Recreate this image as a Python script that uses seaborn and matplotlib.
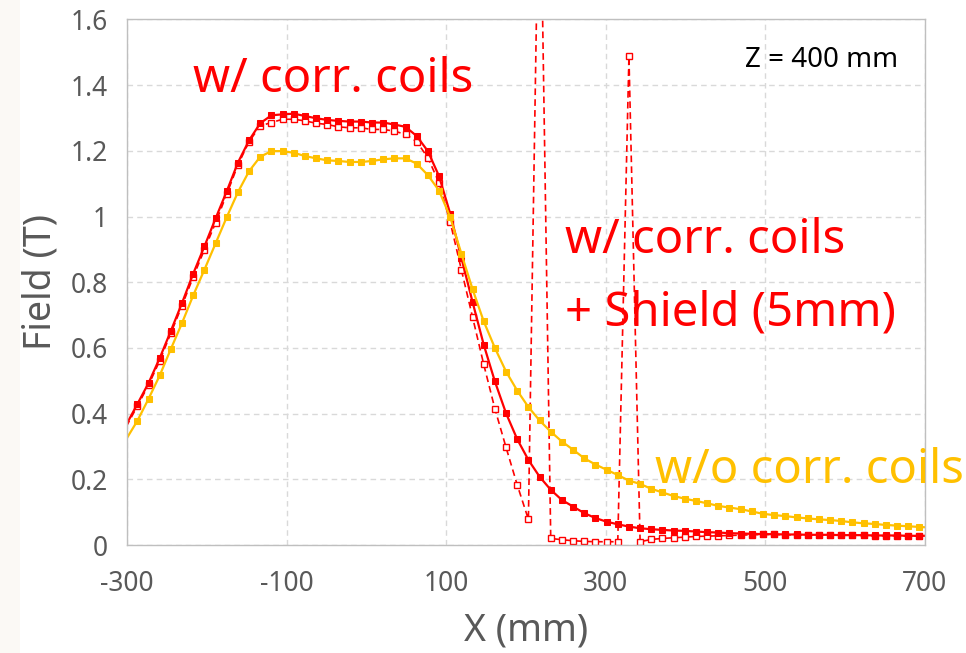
import numpy as np
import pandas as pd
import matplotlib
matplotlib.use("Agg")
import matplotlib.pyplot as plt
from matplotlib.patches import Rectangle
import seaborn as sns

# Sample positions along X (mm)
x_mm = [-301, -287, -273, -259, -245, -231, -217, -203, -189, -175, -161, -147,
        -133, -119, -105, -91, -77, -63, -49, -35, -21, -7, 7, 21, 35, 49, 63,
        77, 91, 105, 119, 133, 147, 161, 175, 189, 203, 217, 231, 245, 259, 273,
        287, 301, 315, 329, 343, 357, 371, 385, 399, 413, 427, 441, 455, 469,
        483, 497, 511, 525, 539, 553, 567, 581, 595, 609, 623, 637, 651, 665,
        679, 693, 707]

# Field (T) without correction coils
field_no_coils = [0.322, 0.378, 0.445, 0.516, 0.597, 0.676, 0.760, 0.838, 0.918,
                  0.998, 1.074, 1.138, 1.182, 1.199, 1.199, 1.194, 1.184, 1.177,
                  1.171, 1.169, 1.166, 1.166, 1.169, 1.174, 1.177, 1.177, 1.161,
                  1.126, 1.079, 0.998, 0.887, 0.779, 0.681, 0.600, 0.528, 0.470,
                  0.420, 0.379, 0.345, 0.315, 0.290, 0.264, 0.245, 0.229, 0.213,
                  0.196, 0.186, 0.171, 0.160, 0.149, 0.141, 0.134, 0.127, 0.119,
                  0.114, 0.109, 0.102, 0.095, 0.091, 0.088, 0.084, 0.081, 0.078,
                  0.076, 0.073, 0.069, 0.066, 0.064, 0.061, 0.059, 0.057, 0.055,
                  0.053]

# Field (T) with correction coils
field_coils = [0.366, 0.429, 0.493, 0.569, 0.652, 0.737, 0.826, 0.909, 0.994,
               1.077, 1.164, 1.232, 1.284, 1.308, 1.311, 1.313, 1.306, 1.299,
               1.294, 1.291, 1.289, 1.289, 1.286, 1.286, 1.280, 1.273, 1.245,
               1.199, 1.123, 1.009, 0.874, 0.740, 0.610, 0.498, 0.401, 0.322,
               0.259, 0.208, 0.168, 0.137, 0.117, 0.097, 0.082, 0.071, 0.063,
               0.056, 0.051, 0.048, 0.046, 0.044, 0.043, 0.041, 0.039, 0.038,
               0.036, 0.035, 0.034, 0.033, 0.033, 0.032, 0.032, 0.031, 0.031,
               0.031, 0.030, 0.030, 0.030, 0.029, 0.029, 0.029, 0.028, 0.028,
               0.028]

# Field (T) with correction coils and a 5 mm shield
field_coils_shield = [0.360, 0.423, 0.487, 0.561, 0.645, 0.729, 0.816, 0.899,
                      0.981, 1.068, 1.157, 1.228, 1.276, 1.286, 1.296, 1.296,
                      1.291, 1.284, 1.280, 1.273, 1.270, 1.270, 1.265, 1.265,
                      1.260, 1.250, 1.228, 1.179, 1.103, 0.983, 0.838, 0.694,
                      0.550, 0.415, 0.297, 0.183, 0.078, 2.200, 0.020, 0.016,
                      0.013, 0.011, 0.010, 0.010, 0.010, 1.488, 0.010, 0.017,
                      0.020, 0.022, 0.024, 0.026, 0.027, 0.028, 0.029, 0.030,
                      0.031, 0.032, 0.032, 0.031, 0.031, 0.030, 0.030, 0.030,
                      0.029, 0.029, 0.029, 0.028, 0.028, 0.028, 0.027, 0.027,
                      0.027]

x_ticks = [-300, -100, 100, 300, 500, 700]
y_ticks = [0, 0.2, 0.4, 0.6, 0.8, 1.0, 1.2, 1.4, 1.6]
y_tick_labels = ["0", "0.2", "0.4", "0.6", "0.8", "1", "1.2", "1.4", "1.6"]

RED = "#FF0000"
GOLD = "#FFC000"
GREY_TEXT = "#595959"

sns.set_style("white")
plt.rcParams["font.family"] = ["Noto Sans", "DejaVu Sans"]

fig = plt.figure(figsize=(9.66, 6.53), dpi=100)
# faint cream margin along the left edge of the page
fig.patches.append(Rectangle((0, 0), 20 / 966, 1, transform=fig.transFigure,
                             facecolor="#fbf9f5", edgecolor="none", zorder=0))

ax = fig.add_axes([127 / 966, 1 - 545 / 653, 798 / 966, 525.6 / 653])

inside = slice(1, len(x_mm) - 1)

sns.lineplot(x=x_mm, y=field_coils_shield, ax=ax, estimator=None, sort=False,
             color=RED, linewidth=1.2, linestyle=(0, (4, 2.5)),
             marker="s", markersize=4.5, markerfacecolor="white",
             markeredgecolor=RED, markeredgewidth=1.0, markevery=inside)
sns.lineplot(x=x_mm, y=field_coils, ax=ax, estimator=None, sort=False,
             color=RED, linewidth=1.6, marker="s", markersize=4,
             markerfacecolor=RED, markeredgecolor=RED, markevery=inside)
sns.lineplot(x=x_mm, y=field_no_coils, ax=ax, estimator=None, sort=False,
             color=GOLD, linewidth=1.6, marker="s", markersize=4,
             markerfacecolor=GOLD, markeredgecolor=GOLD, markevery=inside)

ax.set_xlim(-300, 700)
ax.set_ylim(0, 1.6)
ax.set_xticks(x_ticks)
ax.set_xticklabels([str(v) for v in x_ticks])
ax.set_yticks(y_ticks)
ax.set_yticklabels(y_tick_labels)
ax.tick_params(length=0, labelsize=19, labelcolor=GREY_TEXT)
ax.tick_params(axis="x", pad=18)
ax.tick_params(axis="y", pad=14)

ax.grid(True, linestyle=(0, (4, 3)), color="#d9d9d9", linewidth=1.0)
ax.set_axisbelow(True)
for side in ax.spines.values():
    side.set_color("#bfbfbf")
    side.set_linewidth(1.0)

ax.set_xlabel("X (mm)", fontsize=27, color=GREY_TEXT, labelpad=10)
ax.set_ylabel("Field (T)", fontsize=27, color=GREY_TEXT, labelpad=8)

ax.text(0.083, 0.885, "w/ corr. coils", transform=ax.transAxes,
        fontsize=34, color=RED, ha="left", va="center")
ax.text(0.549, 0.580, "w/ corr. coils", transform=ax.transAxes,
        fontsize=34, color=RED, ha="left", va="center")
ax.text(0.549, 0.442, "+ Shield (5mm)", transform=ax.transAxes,
        fontsize=34, color=RED, ha="left", va="center")
ax.text(0.662, 0.142, "w/o corr. coils", transform=ax.transAxes,
        fontsize=34, color=GOLD, ha="left", va="center", clip_on=False)
ax.text(0.774, 0.923, "Z = 400 mm", transform=ax.transAxes,
        fontsize=20, color="black", ha="left", va="center")

fig.savefig("out.png", dpi=100, facecolor="white")
